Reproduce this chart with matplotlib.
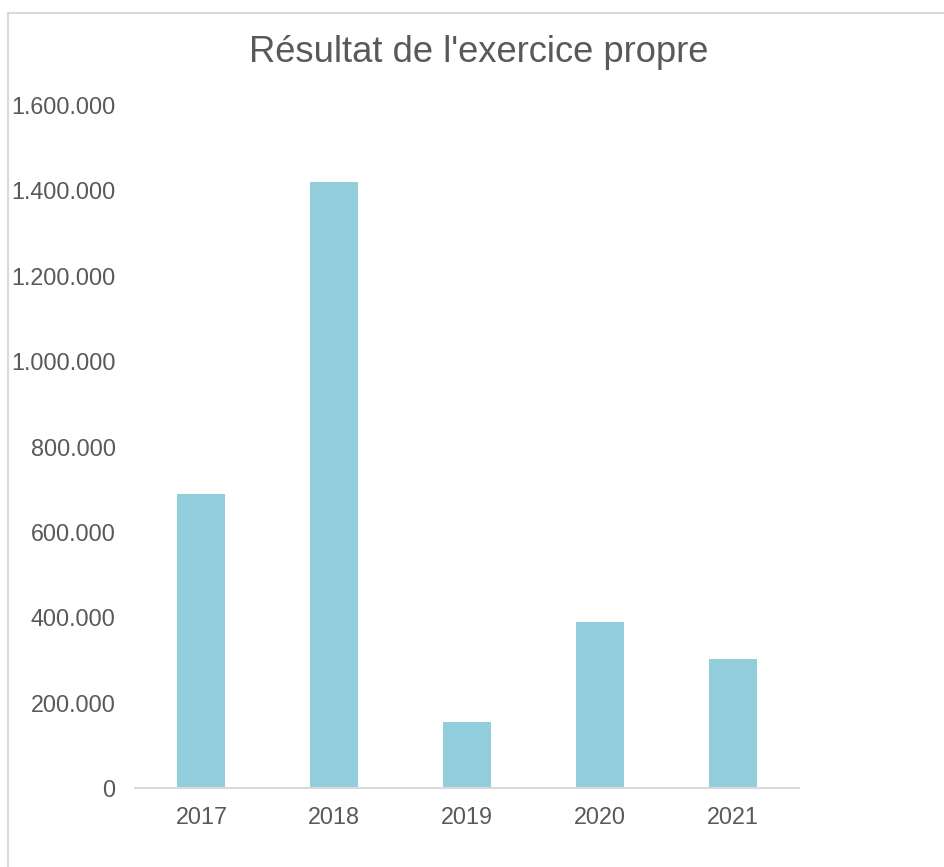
import matplotlib.pyplot as plt
from matplotlib.lines import Line2D
from matplotlib.ticker import FuncFormatter

plt.rcParams['font.family'] = ['Liberation Sans', 'DejaVu Sans']

years = ["2017", "2018", "2019", "2020", "2021"]
resultat = [689000, 1420000, 154000, 389000, 302000]

text_color = "#595959"
bar_color = "#92CDDC"
line_color = "#D9D9D9"

fig = plt.figure(figsize=(9.44, 8.67), dpi=100)
ax = fig.add_axes([135 / 944, 1 - 788 / 867, (799 - 135) / 944, (788 - 105) / 867])

x = range(len(years))
ax.bar(x, resultat, width=0.36, color=bar_color, zorder=2)

ax.set_xlim(-0.5, len(years) - 0.5)
ax.set_ylim(0, 1600000)
ax.set_yticks(range(0, 1600001, 200000))
ax.yaxis.set_major_formatter(FuncFormatter(lambda v, p: f"{int(v):,}".replace(",", ".")))
ax.set_xticks(list(x))
ax.set_xticklabels(years)

for side in ["top", "right", "left"]:
    ax.spines[side].set_visible(False)
ax.spines["bottom"].set_color(line_color)
ax.spines["bottom"].set_linewidth(1.5)
ax.spines["bottom"].set_zorder(3)

ax.tick_params(axis="both", length=0, labelsize=16.8, colors=text_color)
ax.tick_params(axis="y", pad=14)
ax.tick_params(axis="x", pad=13)

fig.text(0.507, 1 - 53 / 867, "Résultat de l'exercice propre", ha="center", va="center",
         fontsize=26.2, color=text_color)

# chart area border (cropped on the right and bottom)
fig.add_artist(Line2D([7.5 / 944, 7.5 / 944], [0, 1 - 12.5 / 867], color=line_color, lw=1.5))
fig.add_artist(Line2D([7.5 / 944, 1], [1 - 12.5 / 867, 1 - 12.5 / 867], color=line_color, lw=1.5))

fig.savefig("out.png", dpi=100)
